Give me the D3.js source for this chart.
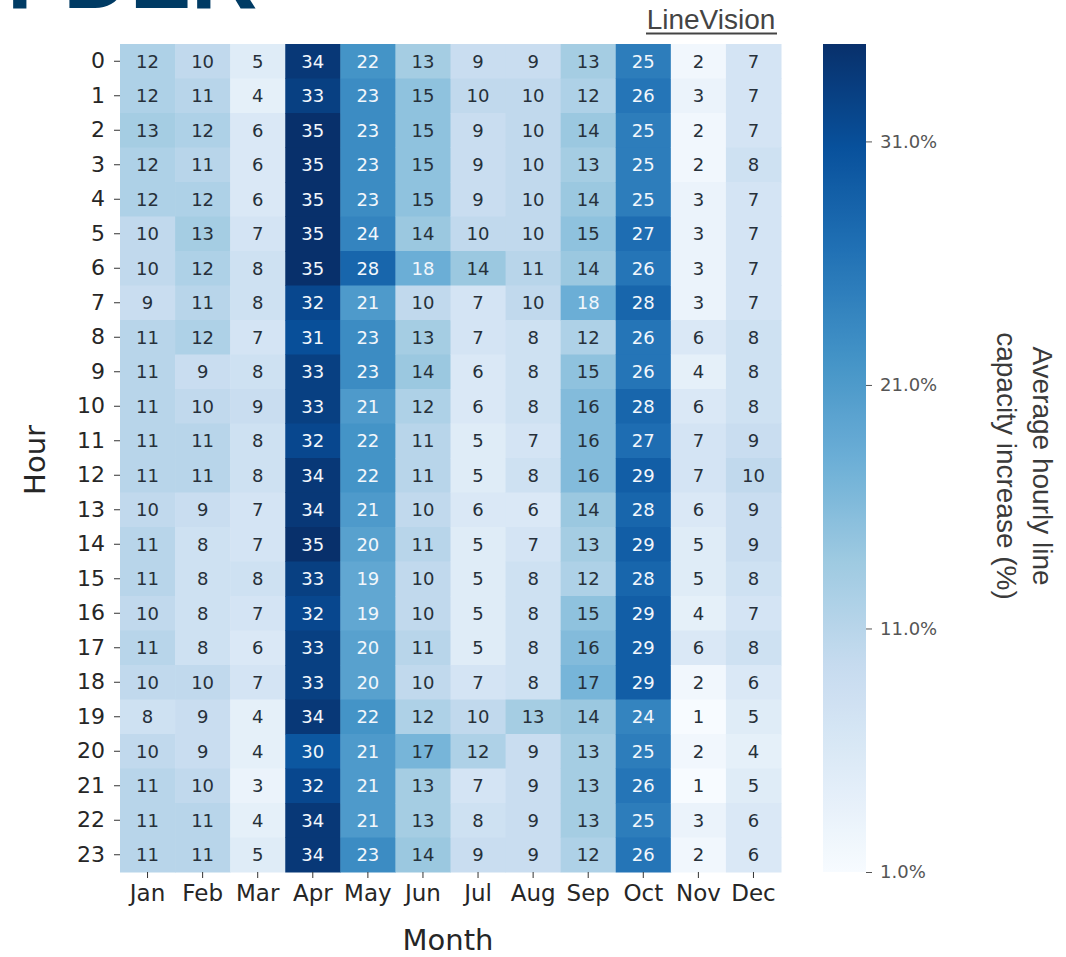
<!DOCTYPE html>
<html><head><meta charset="utf-8">
<script src="https://cdn.jsdelivr.net/npm/d3@7"></script>
<style>body{margin:0;background:#fff;} svg{display:block;}</style>
</head><body>
<svg id="c" width="1066" height="957"></svg>
<script>
const months = ["Jan","Feb","Mar","Apr","May","Jun","Jul","Aug","Sep","Oct","Nov","Dec"];
const hours = d3.range(24).map(String);
const jan = [12,12,13,12,12,10,10,9,11,11,11,11,11,10,11,11,10,11,10,8,10,11,11,11];
const feb = [10,11,12,11,12,13,12,11,12,9,10,11,11,9,8,8,8,8,10,9,9,10,11,11];
const mar = [5,4,6,6,6,7,8,8,7,8,9,8,8,7,7,8,7,6,7,4,4,3,4,5];
const apr = [34,33,35,35,35,35,35,32,31,33,33,32,34,34,35,33,32,33,33,34,30,32,34,34];
const may = [22,23,23,23,23,24,28,21,23,23,21,22,22,21,20,19,19,20,20,22,21,21,21,23];
const jun = [13,15,15,15,15,14,18,10,13,14,12,11,11,10,11,10,10,11,10,12,17,13,13,14];
const jul = [9,10,9,9,9,10,14,7,7,6,6,5,5,6,5,5,5,5,7,10,12,7,8,9];
const aug = [9,10,10,10,10,10,11,10,8,8,8,7,8,6,7,8,8,8,8,13,9,9,9,9];
const sep = [13,12,14,13,14,15,14,18,12,15,16,16,16,14,13,12,15,16,17,14,13,13,13,12];
const oct = [25,26,25,25,25,27,26,28,26,26,28,27,29,28,29,28,29,29,29,24,25,26,25,26];
const nov = [2,3,2,2,3,3,3,3,6,4,6,7,7,6,5,5,4,6,2,1,2,1,3,2];
const dec = [7,7,7,8,7,7,7,7,8,8,8,9,10,9,9,8,7,8,6,5,4,5,6,6];
const monthSeries = [jan,feb,mar,apr,may,jun,jul,aug,sep,oct,nov,dec];
const colorTicks = [1,11,21,31];
const colorDomain = [1,35];
const bluesStops = ["#f7fbff","#deebf7","#c6dbef","#9ecae1","#6baed6","#4292c6","#2171b5","#08519c","#08306b"];

const svg = d3.select("#c");

// cut-off logo text at top-left
svg.append("text").attr("x",7).attr("y",8)
  .attr("font-family","Liberation Sans, Arial, sans-serif").attr("font-weight","bold")
  .attr("font-size",92).attr("fill","#003b64").text("FDER");

// LineVision link
svg.append("text").attr("x",711).attr("y",29).attr("text-anchor","middle")
  .attr("font-family","Liberation Sans, Arial, sans-serif").attr("font-size",28)
  .attr("fill","#444").text("LineVision");
svg.append("line").attr("x1",646).attr("x2",777).attr("y1",33.5).attr("y2",33.5)
  .attr("stroke","#444").attr("stroke-width",2);

const L = 120, T = 44, W = 661, H = 828;
const x = d3.scaleBand().domain(months).range([L, L+W]);
const y = d3.scaleBand().domain(hours).range([T, T+H]);
const color = d3.scaleLinear()
  .domain(bluesStops.map((c,i)=>colorDomain[0]+i*(colorDomain[1]-colorDomain[0])/(bluesStops.length-1)))
  .range(bluesStops).interpolate(d3.interpolateRgb).clamp(true);

const cells = [];
monthSeries.forEach((arr,mi)=>arr.forEach((v,h)=>cells.push({m:months[mi],h:String(h),v})));

function lum(c){
  const r = d3.rgb(c);
  const f = u=>{u/=255;return u<=0.03928?u/12.92:Math.pow((u+0.055)/1.055,2.4);};
  return 0.2126*f(r.r)+0.7152*f(r.g)+0.0722*f(r.b);
}

svg.append("g").selectAll("rect").data(cells).join("rect")
  .attr("x",d=>x(d.m)).attr("y",d=>y(d.h))
  .attr("width",x.bandwidth()+0.5).attr("height",y.bandwidth()+0.5)
  .attr("fill",d=>color(d.v));

svg.append("g").selectAll("text").data(cells).join("text")
  .attr("x",d=>x(d.m)+x.bandwidth()/2).attr("y",d=>y(d.h)+y.bandwidth()/2)
  .attr("dy","0.36em").attr("text-anchor","middle")
  .attr("font-family","DejaVu Sans, sans-serif").attr("font-size",18)
  .attr("fill",d=>lum(color(d.v))>0.408?"#26303a":"#f2f7fc")
  .text(d=>d.v);

// axes
const yAxis = svg.append("g").attr("transform",`translate(${L},0)`)
  .call(d3.axisLeft(y).tickSize(6).tickPadding(9));
yAxis.select(".domain").remove();
yAxis.selectAll("text").attr("font-family","DejaVu Sans, sans-serif").attr("font-size",22).attr("fill","#262626");
yAxis.selectAll("line").attr("stroke","#333");

const xAxis = svg.append("g").attr("transform",`translate(0,${T+H})`)
  .call(d3.axisBottom(x).tickSize(6).tickPadding(7));
xAxis.select(".domain").remove();
xAxis.selectAll("text").attr("font-family","DejaVu Sans, sans-serif").attr("font-size",23).attr("fill","#262626");
xAxis.selectAll("line").attr("stroke","#333");

svg.append("text").attr("transform","translate(45,460) rotate(-90)").attr("text-anchor","middle")
  .attr("font-family","DejaVu Sans, sans-serif").attr("font-size",29).attr("fill","#262626").text("Hour");
svg.append("text").attr("x",448).attr("y",950).attr("text-anchor","middle")
  .attr("font-family","DejaVu Sans, sans-serif").attr("font-size",29).attr("fill","#262626").text("Month");

// colorbar
const CX = 823, CW = 43;
const yc = d3.scaleLinear().domain(colorDomain).range([T+H, T]);
const defs = svg.append("defs");
const grad = defs.append("linearGradient").attr("id","cb").attr("x1",0).attr("x2",0).attr("y1",1).attr("y2",0);
d3.range(0,1.0001,0.025).forEach(t=>{
  grad.append("stop").attr("offset",t).attr("stop-color",color(colorDomain[0]+t*(colorDomain[1]-colorDomain[0])));
});
svg.append("rect").attr("x",CX).attr("y",T).attr("width",CW).attr("height",H).attr("fill","url(#cb)");
const cAxis = svg.append("g").attr("transform",`translate(${CX+CW},0)`)
  .call(d3.axisRight(yc).tickValues(colorTicks).tickSize(6).tickPadding(8).tickFormat(d=>d.toFixed(1)+"%"));
cAxis.select(".domain").remove();
cAxis.selectAll("text").attr("font-family","DejaVu Sans, sans-serif").attr("font-size",18).attr("fill","#555");
cAxis.selectAll("line").attr("stroke","#555");

const lab = svg.append("text").attr("transform","translate(1019,466) rotate(90)").attr("text-anchor","middle")
  .attr("font-family","Liberation Sans, Arial, sans-serif").attr("font-size",28).attr("fill","#3a3a3a");
lab.append("tspan").attr("x",0).attr("dy","-0.5em").text("Average hourly line");
lab.append("tspan").attr("x",0).attr("dy","1.3em").text("capacity increase (%)");
</script>
</body></html>
